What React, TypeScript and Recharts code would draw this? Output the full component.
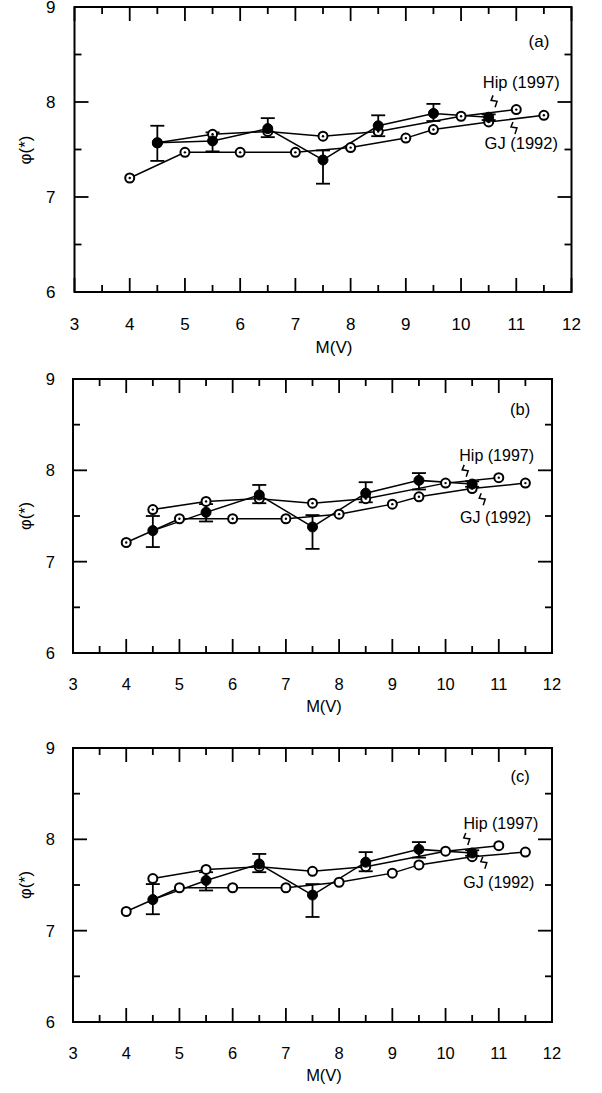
import React from 'react';
import { ComposedChart, Line, XAxis, YAxis, ErrorBar, ReferenceArea, ReferenceDot } from 'recharts';

const FONT = '"Liberation Sans", Arial, Helvetica, sans-serif';

// Axis ticks (labels drawn on integer ticks, minor ticks on halves)
const xTicks = [3, 3.5, 4, 4.5, 5, 5.5, 6, 6.5, 7, 7.5, 8, 8.5, 9, 9.5, 10, 10.5, 11, 11.5, 12];
const yTicks = [6, 6.5, 7, 7.5, 8, 8.5, 9];

// Bins
const gjX = [4, 5, 6, 7, 8, 9, 9.5, 10.5, 11.5];
const hipX = [4.5, 5.5, 6.5, 7.5, 8.5, 10, 11];
const lfX = [4.5, 5.5, 6.5, 7.5, 8.5, 9.5, 10.5];

// Panel (a)
const gjA = [7.2, 7.47, 7.47, 7.47, 7.52, 7.62, 7.71, 7.79, 7.86];
const hipA = [7.57, 7.66, 7.69, 7.64, 7.69, 7.85, 7.92];
const lfA = [7.57, 7.59, 7.72, 7.39, 7.75, 7.88, 7.84];
const lfALo = [7.38, 7.48, 7.63, 7.14, 7.64, 7.8, 7.81];
const lfAHi = [7.75, 7.68, 7.83, 7.49, 7.86, 7.98, 7.87];

// Panel (b)
const gjB = [7.21, 7.47, 7.47, 7.47, 7.52, 7.63, 7.71, 7.8, 7.86];
const hipB = [7.57, 7.66, 7.69, 7.64, 7.69, 7.86, 7.92];
const lfB = [7.34, 7.54, 7.73, 7.38, 7.75, 7.89, 7.85];
const lfBLo = [7.16, 7.44, 7.64, 7.14, 7.65, 7.79, 7.82];
const lfBHi = [7.5, 7.63, 7.84, 7.51, 7.87, 7.97, 7.88];

// Panel (c)
const gjC = [7.21, 7.47, 7.47, 7.47, 7.53, 7.63, 7.72, 7.81, 7.86];
const hipC = [7.57, 7.67, 7.7, 7.65, 7.7, 7.87, 7.93];
const lfC = [7.34, 7.55, 7.73, 7.39, 7.75, 7.89, 7.85];
const lfCLo = [7.18, 7.44, 7.64, 7.15, 7.65, 7.8, 7.82];
const lfCHi = [7.51, 7.64, 7.84, 7.51, 7.86, 7.97, 7.88];

type Geo = {
  chartTop: number;
  chartH: number;
  mTop: number;
  mBottom: number;
  mLeft: number;
  mRight: number;
  font: number;
  labelGap: number;
  xLabelOff: number;
  titleOff: number;
  titleX: number;
};

// mTop/mBottom/mLeft/mRight describe the plot box inside each chart
const geoA: Geo = { chartTop: 0, chartH: 365, mTop: 7, mBottom: 73, mLeft: 74.5, mRight: 30.5, font: 17, labelGap: 19, xLabelOff: 32, titleOff: 55, titleX: 334 };
const geoB: Geo = { chartTop: 370, chartH: 360, mTop: 9, mBottom: 77, mLeft: 73, mRight: 50, font: 16.5, labelGap: 18, xLabelOff: 31, titleOff: 53, titleX: 324 };
const geoC: Geo = { chartTop: 740, chartH: 353, mTop: 8, mBottom: 71, mLeft: 73, mRight: 50, font: 16.5, labelGap: 18, xLabelOff: 31, titleOff: 53, titleX: 324 };

const W = 602;
const AX = 1; // axis thickness reserved by recharts

const isInt = (v: number) => Math.abs(v - Math.round(v)) < 1e-6;

const makeXTick = (g: Geo) => (p: any) => {
  const { x, payload, index } = p;
  const top = g.mTop;
  const bottom = g.chartH - g.mBottom;
  const v = payload.value as number;
  const len = isInt(v) ? 14 : 7;
  return (
    <g key={`xt${index}`}>
      <line x1={x} y1={bottom} x2={x} y2={bottom - len} stroke="#000" strokeWidth={1.8} />
      <line x1={x} y1={top} x2={x} y2={top + len} stroke="#000" strokeWidth={1.8} />
      {isInt(v) && (
        <text x={x} y={bottom + g.xLabelOff} dy="0.36em" textAnchor="middle" fontSize={g.font} fontFamily={FONT} fill="#000">
          {v}
        </text>
      )}
    </g>
  );
};

const makeYTick = (g: Geo) => (p: any) => {
  const { y, payload, index } = p;
  const left = g.mLeft;
  const right = W - g.mRight;
  const v = payload.value as number;
  const len = isInt(v) ? 14 : 7;
  return (
    <g key={`yt${index}`}>
      <line x1={left} y1={y} x2={left + len} y2={y} stroke="#000" strokeWidth={1.8} />
      <line x1={right} y1={y} x2={right - len} y2={y} stroke="#000" strokeWidth={1.8} />
      {isInt(v) && (
        <text x={left - g.labelGap} y={y} dy="0.36em" textAnchor="end" fontSize={g.font} fontFamily={FONT} fill="#000">
          {v}
        </text>
      )}
    </g>
  );
};

const openDot = (dotted: boolean) => (p: any) => {
  const { cx, cy, index } = p;
  if (cx == null || cy == null) return <g key={`o${index}`} />;
  return (
    <g key={`o${index}`}>
      <circle cx={cx} cy={cy} r={4.5} fill="#fff" stroke="#000" strokeWidth={2} />
      {dotted && <circle cx={cx} cy={cy} r={1.2} fill="#000" />}
    </g>
  );
};

const filledDot = (p: any) => {
  const { cx, cy, index } = p;
  if (cx == null || cy == null) return <g key={`f${index}`} />;
  return <circle key={`f${index}`} cx={cx} cy={cy} r={5} fill="#000" stroke="#000" strokeWidth={1} />;
};

const textShape = (label: string, size: number) => (p: any) => (
  <text x={p.cx} y={p.cy} dy="0.36em" textAnchor="middle" fontSize={size} fontFamily={FONT} fill="#000">
    {label}
  </text>
);

const squiggle = (p: any) => (
  <path d={`M${p.cx},${p.cy} l-2,5 l6,1 l-2,6`} stroke="#000" strokeWidth={1.5} fill="none" />
);

type Ann = { tag: [number, number]; hipT: [number, number]; hipS: [number, number]; gjT: [number, number]; gjS: [number, number] };

const annA: Ann = { tag: [11.41, 8.64], hipT: [11.09, 8.21], hipS: [10.58, 8.07], gjT: [11.09, 7.57], gjS: [10.94, 7.79] };
const annB: Ann = { tag: [11.4, 8.67], hipT: [10.96, 8.16], hipS: [10.35, 8.06], gjT: [10.94, 7.49], gjS: [10.67, 7.75] };
const annC: Ann = { tag: [11.4, 8.69], hipT: [11.04, 8.18], hipS: [10.38, 8.07], gjT: [11.0, 7.53], gjS: [10.7, 7.81] };

function Panel(props: {
  g: Geo;
  gj: number[];
  hip: number[];
  lf: number[];
  lo: number[];
  hi: number[];
  dotted: boolean;
  tag: string;
  ann: Ann;
}) {
  const { g, gj, hip, lf, lo, hi, dotted, tag, ann } = props;
  const gjPts = gjX.map((x, i) => ({ x, y: gj[i] }));
  const hipPts = hipX.map((x, i) => ({ x, y: hip[i] }));
  const lfPts = lfX.map((x, i) => ({ x, y: lf[i], err: [lf[i] - lo[i], hi[i] - lf[i]] }));
  const annSize = g.font - 0.5;
  const plotBottom = g.chartTop + g.chartH - g.mBottom;
  const plotMid = g.chartTop + (g.mTop + g.chartH - g.mBottom) / 2;
  return (
    <>
      <div style={{ position: 'absolute', left: 0, top: g.chartTop, width: W, height: g.chartH }}>
        <ComposedChart
          width={W}
          height={g.chartH}
          margin={{ top: g.mTop, bottom: g.mBottom - AX, left: g.mLeft - AX, right: g.mRight }}
        >
          <XAxis
            type="number"
            dataKey="x"
            domain={[3, 12]}
            ticks={xTicks}
            interval={0}
            allowDataOverflow
            height={AX}
            axisLine={false}
            tickLine={false}
            tickSize={0}
            tickMargin={0}
            tick={makeXTick(g)}
          />
          <YAxis
            type="number"
            domain={[6, 9]}
            ticks={yTicks}
            interval={0}
            allowDataOverflow
            width={AX}
            axisLine={false}
            tickLine={false}
            tickSize={0}
            tickMargin={0}
            tick={makeYTick(g)}
          />
          <ReferenceArea x1={3} x2={12} y1={6} y2={9} fill="none" fillOpacity={0} stroke="#000" strokeWidth={2} strokeOpacity={1} />
          <Line
            data={gjPts}
            dataKey="y"
            type="linear"
            stroke="#000"
            strokeWidth={1.5}
            dot={openDot(dotted)}
            activeDot={false}
            isAnimationActive={false}
            legendType="none"
          />
          <Line
            data={hipPts}
            dataKey="y"
            type="linear"
            stroke="#000"
            strokeWidth={1.5}
            dot={openDot(dotted)}
            activeDot={false}
            isAnimationActive={false}
            legendType="none"
          />
          <Line
            data={lfPts}
            dataKey="y"
            type="linear"
            stroke="#000"
            strokeWidth={1.5}
            dot={filledDot}
            activeDot={false}
            isAnimationActive={false}
            legendType="none"
          >
            <ErrorBar dataKey="err" direction="y" width={7} strokeWidth={1.8} stroke="#000" isAnimationActive={false} />
          </Line>
          <ReferenceDot x={ann.tag[0]} y={ann.tag[1]} r={1} shape={textShape(tag, g.font)} />
          <ReferenceDot x={ann.hipT[0]} y={ann.hipT[1]} r={1} shape={textShape('Hip (1997)', annSize)} />
          <ReferenceDot x={ann.hipS[0]} y={ann.hipS[1]} r={1} shape={squiggle} />
          <ReferenceDot x={ann.gjT[0]} y={ann.gjT[1]} r={1} shape={textShape('GJ (1992)', annSize)} />
          <ReferenceDot x={ann.gjS[0]} y={ann.gjS[1]} r={1} shape={squiggle} />
        </ComposedChart>
      </div>
      <div
        style={{
          position: 'absolute',
          left: g.titleX,
          top: plotBottom + g.titleOff,
          transform: 'translate(-50%, -50%)',
          fontFamily: FONT,
          fontSize: g.font,
          whiteSpace: 'nowrap',
          lineHeight: 1,
        }}
      >
        M(V)
      </div>
      <div
        style={{
          position: 'absolute',
          left: 25,
          top: plotMid,
          transform: 'translate(-50%, -50%) rotate(-90deg)',
          fontFamily: FONT,
          fontSize: g.font,
          whiteSpace: 'nowrap',
          lineHeight: 1,
        }}
      >
        φ(*)
      </div>
    </>
  );
}

export default function App() {
  return (
    <div style={{ position: 'absolute', left: 0, top: 0, width: W, height: 1093, background: '#fff', overflow: 'hidden' }}>
      <Panel g={geoA} gj={gjA} hip={hipA} lf={lfA} lo={lfALo} hi={lfAHi} dotted tag="(a)" ann={annA} />
      <Panel g={geoB} gj={gjB} hip={hipB} lf={lfB} lo={lfBLo} hi={lfBHi} dotted tag="(b)" ann={annB} />
      <Panel g={geoC} gj={gjC} hip={hipC} lf={lfC} lo={lfCLo} hi={lfCHi} dotted={false} tag="(c)" ann={annC} />
    </div>
  );
}
